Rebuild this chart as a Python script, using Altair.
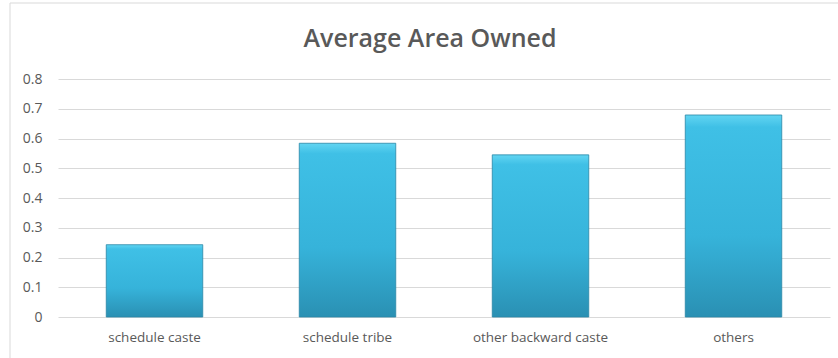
import altair as alt
import pandas as pd

title_text = "Average Area Owned"
categories = ["schedule caste", "schedule tribe", "other backward caste", "others"]
values = [0.243, 0.584, 0.545, 0.679]
y_ticks = [0, 0.1, 0.2, 0.3, 0.4, 0.5, 0.6, 0.7, 0.8]

df = pd.DataFrame({"category": categories, "value": values})

grad = alt.Gradient(
    gradient="linear",
    stops=[
        alt.GradientStop(color="#62d5f2", offset=0),
        alt.GradientStop(color="#3fc0e6", offset=0.06),
        alt.GradientStop(color="#36b3da", offset=0.6),
        alt.GradientStop(color="#2a90b3", offset=1),
    ],
    x1=0, x2=0, y1=0, y2=1,
)

frame = alt.Chart(pd.DataFrame({"a": [0]})).mark_rect(
    filled=False, stroke="#d9d9d9", strokeWidth=1
).encode(
    x=alt.value(-48), x2=alt.value(790), y=alt.value(-76), y2=alt.value(290)
)

title = alt.Chart(pd.DataFrame({"t": [title_text]})).mark_text(
    font="Open Sans", fontSize=25, fontWeight=600, color="#595959",
    align="center", baseline="alphabetic",
).encode(
    x=alt.value(372), y=alt.value(-32), text="t:N"
)

bars = alt.Chart(df).mark_bar(
    color=grad, stroke="#2a86a6", strokeWidth=0.8
).encode(
    x=alt.X(
        "category:N",
        sort=categories,
        scale=alt.Scale(paddingInner=0.5, paddingOuter=0.25),
        axis=alt.Axis(
            title=None, labelAngle=0, domain=False, ticks=False,
            labelFont="Open Sans", labelFontSize=13.5, labelColor="#595959",
            labelPadding=13,
        ),
    ),
    y=alt.Y(
        "value:Q",
        scale=alt.Scale(domain=[0, 0.8]),
        axis=alt.Axis(
            title=None, values=y_ticks, format=".1~f", domain=False, ticks=False,
            labelFont="Open Sans", labelFontSize=14, labelColor="#595959",
            labelPadding=16, gridColor="#d9d9d9", gridWidth=1,
        ),
    ),
)

chart = alt.layer(frame, title, bars).properties(
    width=772,
    height=238,
    autosize=alt.AutoSizeParams(type="none"),
    padding={"left": 58, "top": 79, "right": 8, "bottom": 41},
).configure(background="white").configure_view(stroke=None)

chart.save("out.html", embed_options={"renderer": "svg", "actions": False})
